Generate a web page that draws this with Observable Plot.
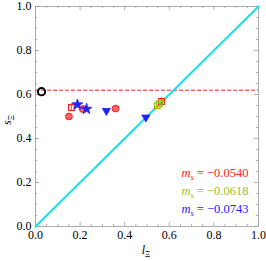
<!DOCTYPE html>
<html><head><meta charset="utf-8">
<script src="https://cdn.jsdelivr.net/npm/d3@7"></script>
<script src="https://cdn.jsdelivr.net/npm/@observablehq/plot@0.6"></script>
<style>body{margin:0;background:#fff}</style>
</head><body><div id="chart"></div>
<script>
// Data
const redX = [0.150, 0.212, 0.359];
const redY = [0.500, 0.534, 0.536];
const redSqX = [0.161, 0.565];
const redSqY = [0.541, 0.568];
const blueStarX = [0.188, 0.229];
const blueStarY = [0.554, 0.534];
const blueTriX = [0.318, 0.495];
const blueTriY = [0.526, 0.496];
const greenSqX = [0.546, 0.556];
const greenSqY = [0.549, 0.559];
const physX = [0.027];
const physY = [0.613];
const dashedY = 0.619;
const diagX = [0, 1];
const labels = ["−0.0540", "−0.0618", "−0.0743"];
const labelColors = ["#ff2020", "#99c21f", "#2020ff"];
const labelY = [0.242, 0.161, 0.079];
const majorTicks = [0, 0.2, 0.4, 0.6, 0.8, 1.0];
const minorTicks = d3.range(0, 1.0001, 0.05).filter(v => Math.abs(v * 5 - Math.round(v * 5)) > 1e-6);

const pts = (xs, ys) => xs.map((x, i) => ({x, y: ys[i]}));
const T = 0.018, t = 0.009;
const tickMarks = [];
for (const [list, len] of [[majorTicks, T], [minorTicks, t]]) {
  tickMarks.push(Plot.ruleX(list, {x: d => d, y1: 0, y2: len, stroke: "#999", strokeWidth: 0.8}));
  tickMarks.push(Plot.ruleX(list, {x: d => d, y1: 1 - len, y2: 1, stroke: "#999", strokeWidth: 0.8}));
  tickMarks.push(Plot.ruleY(list, {y: d => d, x1: 0, x2: len, stroke: "#999", strokeWidth: 0.8}));
  tickMarks.push(Plot.ruleY(list, {y: d => d, x1: 1 - len, x2: 1, stroke: "#999", strokeWidth: 0.8}));
}

const chart = Plot.plot({
  width: 266, height: 261,
  marginLeft: 35, marginRight: 8, marginTop: 6, marginBottom: 35,
  style: {fontFamily: "Liberation Serif", fontSize: "12px", color: "#000", background: "#fff", overflow: "visible"},
  x: {domain: [0, 1]},
  y: {domain: [0, 1]},
  marks: [
    Plot.axisX(majorTicks, {tickSize: 0, tickPadding: 4, tickFormat: d3.format(".1f"), label: null, fontSize: 12}),
    Plot.axisY(majorTicks, {tickSize: 0, tickPadding: 4, tickFormat: d3.format(".1f"), label: null, fontSize: 12}),
    ...tickMarks,
    Plot.frame({stroke: "#999", strokeWidth: 0.8}),
    Plot.ruleY([dashedY], {stroke: "#ff6a6a", strokeWidth: 1.5, strokeDasharray: "4,2"}),
    Plot.line(pts(diagX, diagX), {x: "x", y: "y", stroke: "#1fe0e6", strokeWidth: 2.2}),
    Plot.dot(pts(physX, physY), {x: "x", y: "y", r: 3.6, stroke: "#000", strokeWidth: 2, fill: "none"}),
    Plot.ruleX(pts(redSqX, redSqY), {x: "x", y1: d => d.y - 0.018, y2: d => d.y + 0.018, stroke: "#ff2020", strokeWidth: 0.8}),
    Plot.dot(pts(redX, redY), {x: "x", y: "y", r: 3.4, fill: "#ff3030", fillOpacity: 0.75, stroke: "#ff2020", strokeWidth: 1}),
    Plot.dot(pts(redSqX, redSqY), {x: "x", y: "y", symbol: "square", r: 3.2, fill: "none", stroke: "#ff2020", strokeWidth: 1.2}),
    Plot.dot(pts(greenSqX, greenSqY), {x: "x", y: "y", symbol: "square", r: 3.2, fill: "none", stroke: "#99c21f", strokeWidth: 1.4}),
    Plot.dot(pts(blueStarX, blueStarY), {x: "x", y: "y", symbol: "star", r: 3.4, fill: "#2020ff", stroke: "#2020ff", strokeWidth: 0.8}),
    Plot.dot(pts(blueTriX, blueTriY), {x: "x", y: "y", symbol: "triangle", r: 3.0, rotate: 180, fill: "#2020ff", stroke: "#2020ff", strokeWidth: 0.8}),
    Plot.text(labels, {x: 0.955, y: (d, i) => labelY[i], text: d => "ms = " + d, fill: (d, i) => labelColors[i], textAnchor: "end", fontSize: 12.5, className: "mslabel"}),
  ]
});

// axis titles with subscript
const svg = d3.select(chart);
svg.append("text").attr("x", 146).attr("y", 254).attr("text-anchor", "middle")
  .attr("font-family", "Liberation Serif").attr("font-size", 12).attr("font-style", "italic")
  .html('l<tspan font-size="8" dy="3" font-style="normal">Ξ</tspan>');
svg.append("text").attr("transform", "translate(11,120) rotate(-90)").attr("text-anchor", "middle")
  .attr("font-family", "Liberation Serif").attr("font-size", 12).attr("font-style", "italic")
  .html('s<tspan font-size="8" dy="3" font-style="normal">Ξ</tspan>');
svg.selectAll(".mslabel text").each(function() {
  const s = this.textContent.replace(/^ms = /, "");
  this.innerHTML = '<tspan font-style="italic">m</tspan><tspan font-style="italic" font-size="8.5" dy="3">s</tspan><tspan dy="-3"> = ' + s + '</tspan>';
});
document.getElementById("chart").append(chart);
</script></body></html>
